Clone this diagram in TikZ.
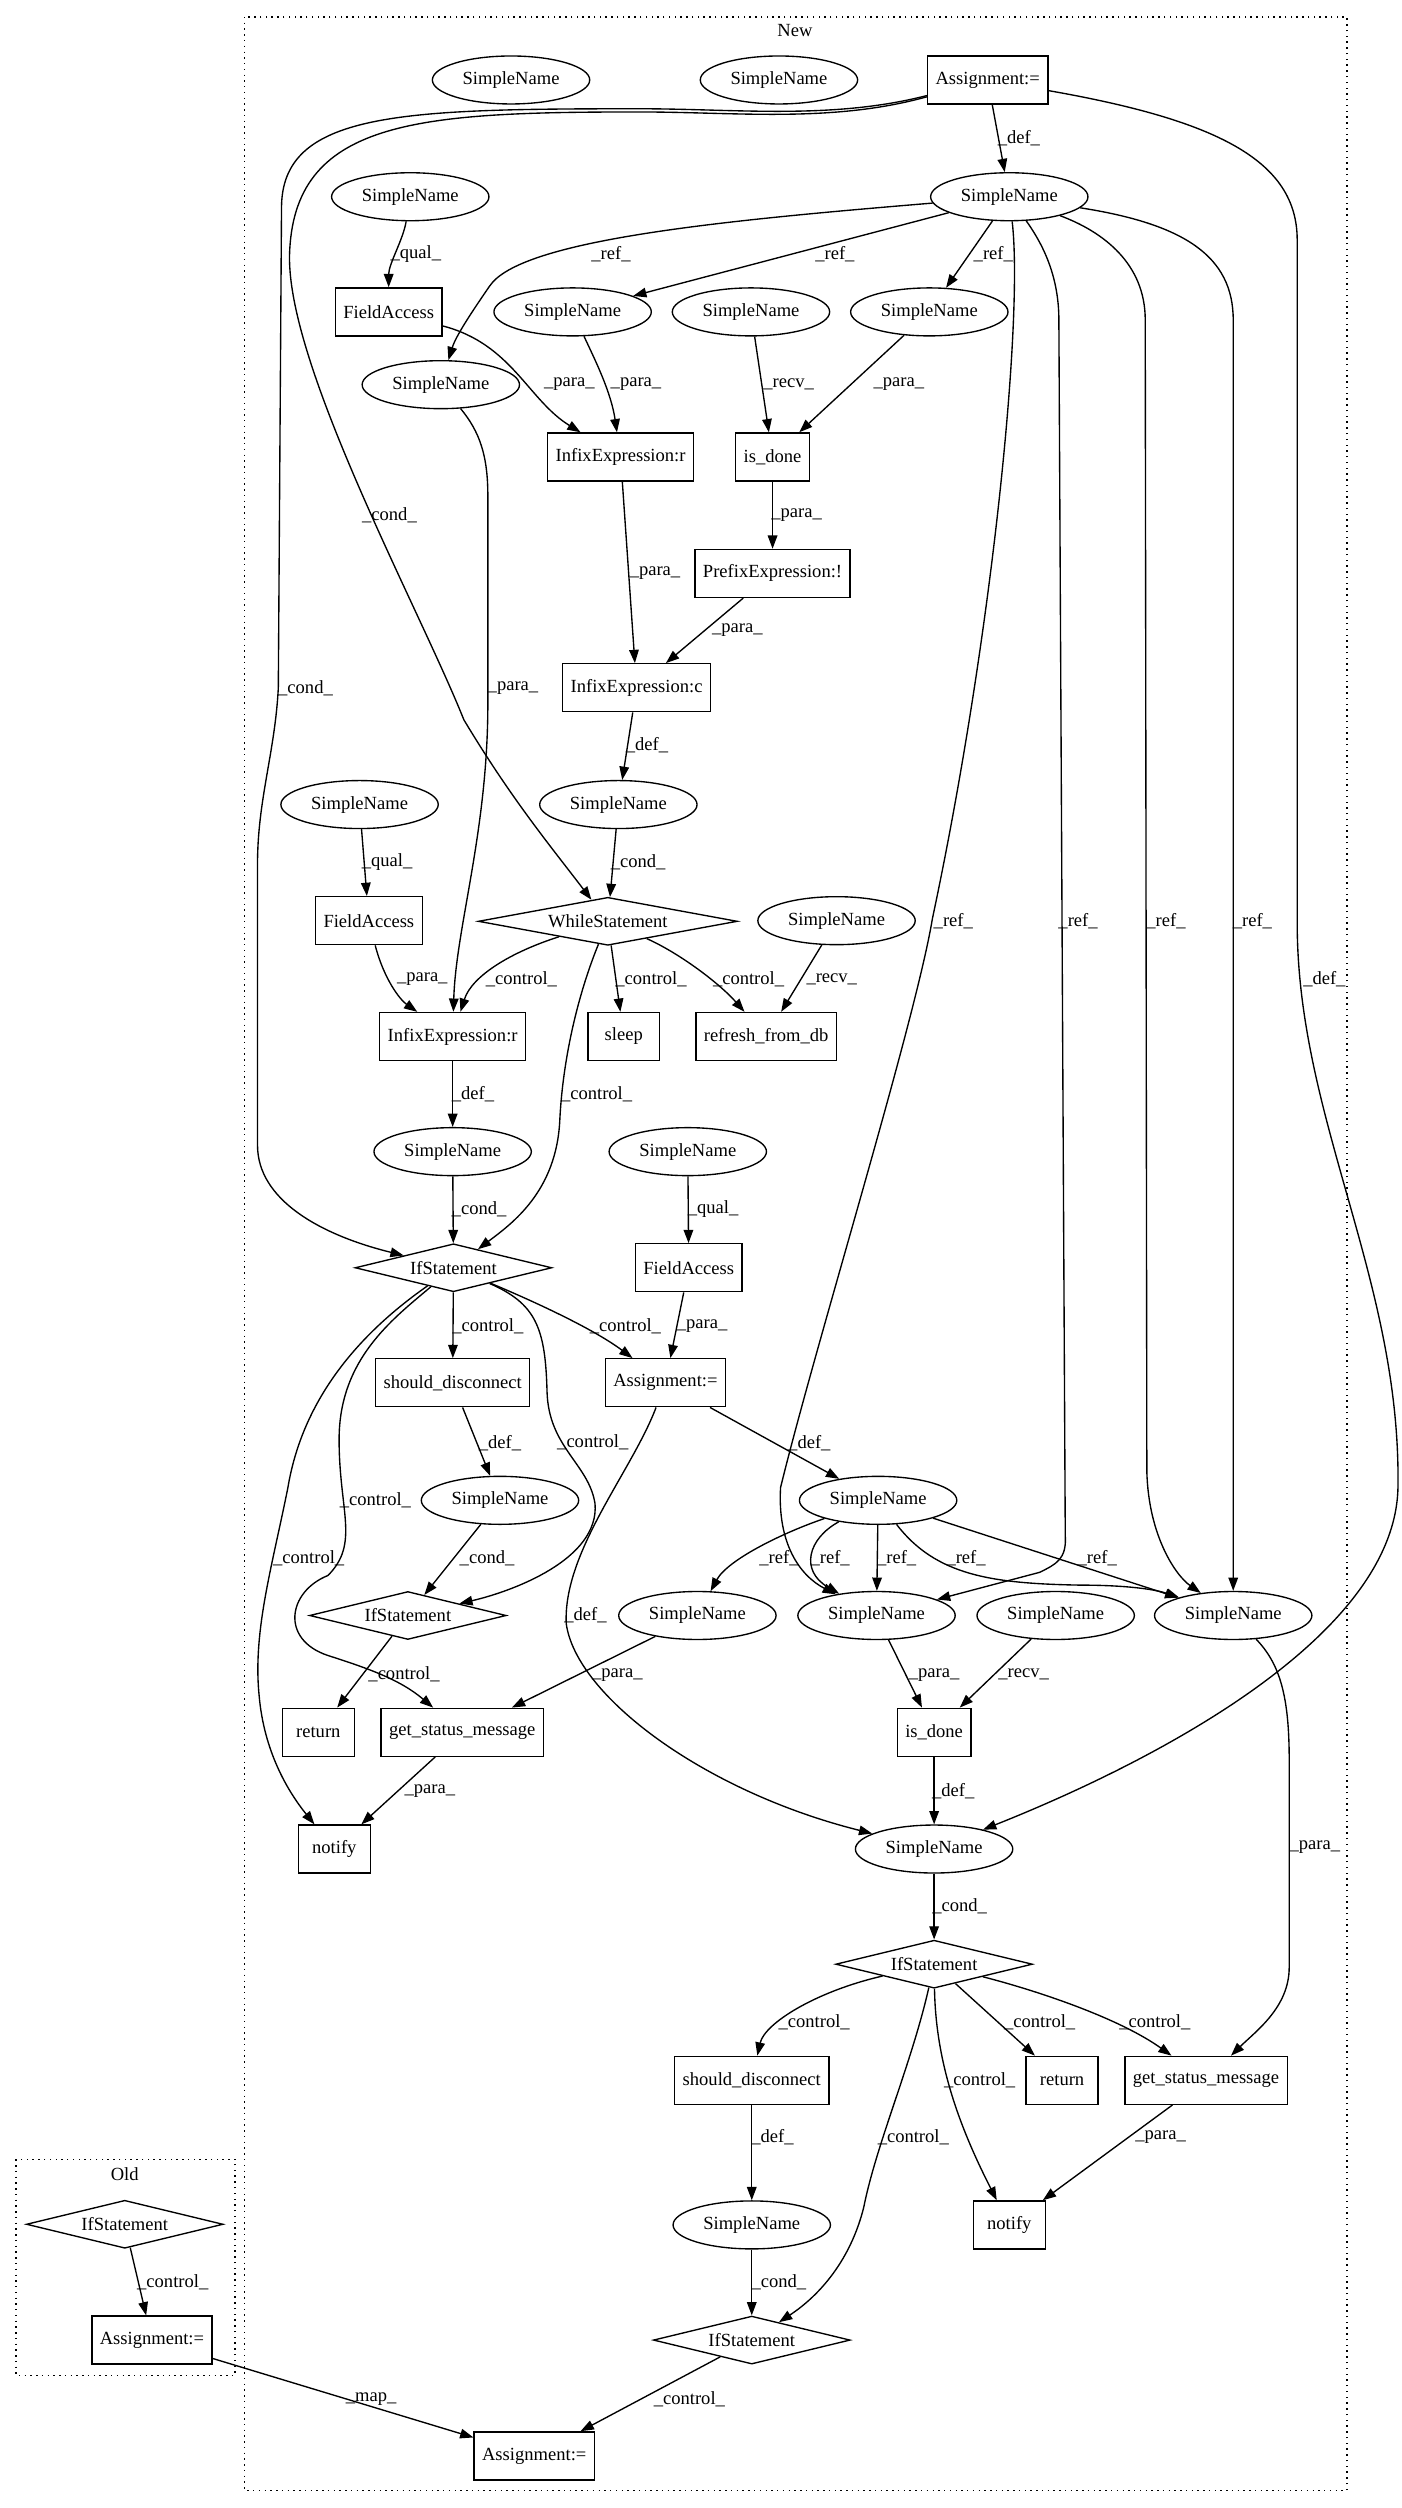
\documentclass[tikz,border=0pt]{standalone}
\usepackage{fontspec}
\setmainfont{Liberation Serif}
\usetikzlibrary{arrows.meta,shapes.geometric}

\begin{document}
\begin{tikzpicture}[x=1pt,y=-1pt,
  every node/.style={font=\fontsize{11.6}{13}\selectfont},
  sn/.style={draw,ellipse,inner xsep=4.5pt,inner ysep=2pt,minimum height=30pt,line width=0.85pt},
  bx/.style={draw,rectangle,inner xsep=5pt,minimum width=45pt,minimum height=30pt,line width=0.85pt},
  dm/.style={draw,diamond,aspect=4.2,inner sep=0pt,minimum width=123pt,minimum height=30pt,line width=0.85pt},
  ln/.style={-{Triangle[length=8.3pt,width=6pt]},line width=0.85pt},
  lb/.style={inner sep=0pt},
  grp/.style={dash pattern=on 0.9pt off 2.7pt,line width=0.9pt}]
\useasboundingbox (0,0) rectangle (876,1568);

\draw[grp] (153,10.6) rectangle (842,1557);
\node (t1) at (497,19) {New};
\draw[grp] (10,1350) rectangle (147,1485);
\node (t2) at (78,1359) {Old};

\node[sn] (s1) at (319.5,50) {SimpleName};
\node[sn] (s2) at (487,50) {SimpleName};
\node[bx] (a1) at (617.5,50) {Assignment:=};
\node[sn] (s3) at (631,123) {SimpleName};
\node[sn] (s4) at (256.5,123) {SimpleName};
\node[bx] (f1) at (243,195) {FieldAccess};
\node[sn] (s5) at (358,195) {SimpleName};
\node[sn] (s6) at (469.5,195) {SimpleName};
\node[sn] (s7) at (581,195) {SimpleName};
\node[sn] (s8) at (275.6,240.5) {SimpleName};
\node[bx] (ir1) at (388,285.7) {InfixExpression:r};
\node[bx] (d1) at (483,285.7) {is\_done};
\node[bx] (p1) at (483,358.5) {PrefixExpression:!};
\node[bx] (ic1) at (398,430) {InfixExpression:c};
\node[sn] (s9) at (386.6,503) {SimpleName};
\node[sn] (s10) at (224.8,503) {SimpleName};
\node[bx] (f2) at (230.6,575.6) {FieldAccess};
\node[dm,minimum width=162pt] (w1) at (380,576) {WhileStatement};
\node[sn] (s11) at (523,575.6) {SimpleName};
\node[bx] (ir2) at (283,648) {InfixExpression:r};
\node[bx] (sl1) at (390,648) {sleep};
\node[bx] (rf1) at (479,648) {refresh\_from\_db};
\node[sn] (s12) at (283,720) {SimpleName};
\node[sn] (s13) at (430,720) {SimpleName};
\node[dm] (if1) at (283.5,792.6) {IfStatement};
\node[bx] (f3) at (430.6,792.6) {FieldAccess};
\node[bx] (sd1) at (283,864.5) {should\_disconnect};
\node[bx] (a2) at (416,864.5) {Assignment:=};
\node[sn] (s14) at (549,938) {SimpleName};
\node[sn] (s15) at (312.6,938) {SimpleName};
\node[dm] (if2) at (255,1010) {IfStatement};
\node[sn] (s16) at (436,1010) {SimpleName};
\node[sn] (s17) at (548,1010) {SimpleName};
\node[sn] (s18) at (660,1010) {SimpleName};
\node[sn] (s19) at (771,1010) {SimpleName};
\node[bx] (r1) at (199,1083) {return};
\node[bx] (g1) at (289,1083) {get\_status\_message};
\node[bx] (d2) at (584,1083) {is\_done};
\node[bx] (n1) at (209,1156) {notify};
\node[sn] (s20) at (584,1156) {SimpleName};
\node[dm] (if3) at (584,1228) {IfStatement};
\node[bx] (sd2) at (470,1300.6) {should\_disconnect};
\node[bx] (r2) at (664,1300.6) {return};
\node[bx] (g2) at (754,1300.6) {get\_status\_message};
\node[bx] (n2) at (631,1391) {notify};
\node[sn] (s21) at (470,1391) {SimpleName};
\node[dm] (if4) at (470,1463) {IfStatement};
\node[bx] (a3) at (334,1535.4) {Assignment:=};
\node[dm] (if5) at (78,1390.6) {IfStatement};
\node[bx] (a4) at (95,1463) {Assignment:=};

\draw[ln] (a1) -- (s3) node[lb] (l1) at (637,86.5) {\_def\_};
\draw[ln] (a1) .. controls (520,75) and (460,68) .. (400,68) .. controls (250,68) and (176,70) .. (176,130) -- (174,430) .. controls (172,470) and (161,500) .. (161,540) -- (161,716) .. controls (161,750) and (200,772) .. (if1) node[lb] (l2) at (191,430) {\_cond\_};
\draw[ln] (a1) .. controls (520,77) and (460,70) .. (400,70) .. controls (260,70) and (183,75) .. (181,160) .. controls (180,230) and (262,380) .. (290,450) .. controls (320,500) and (345,530) .. (w1) node[lb] (l3) at (243.5,322) {\_cond\_};
\draw[ln] (a1) .. controls (760,75) and (811,100) .. (811,150) -- (811,577) .. controls (811,700) and (876,800) .. (874,930) .. controls (872,1030) and (700,1110) .. (s20) node[lb] (l4) at (828,612) {\_def\_};

\draw[ln] (s3) .. controls (450,138) and (325,150) .. (306,179) .. controls (295,195) and (285,210) .. (s8) node[lb] (l5) at (382,159) {\_ref\_};
\draw[ln] (s3) -- (s5) node[lb] (l6) at (522,159) {\_ref\_};
\draw[ln] (s3) -- (s7) node[lb] (l7) at (621,159) {\_ref\_};
\draw[ln] (s3) .. controls (640,200) and (620,400) .. (583,574) .. controls (572,640) and (510,840) .. (488,930) .. controls (486,965) and (500,985) .. (s17) node[lb] (l8) at (596,576) {\_ref\_};
\draw[ln] (s3) .. controls (650,150) and (662,170) .. (662,200) -- (666,960) .. controls (667,975) and (660,978) .. (650,983) -- (s17) node[lb] (l9) at (674,576) {\_ref\_};
\draw[ln] (s3) .. controls (690,145) and (716,165) .. (716,200) -- (717,920) .. controls (718,960) and (735,985) .. (s19) node[lb] (l10) at (729,576) {\_ref\_};
\draw[ln] (s3) .. controls (740,140) and (771,160) .. (771,200) -- (s19) node[lb] (l11) at (783,576) {\_ref\_};

\draw[ln] (s4) .. controls (252,150) and (243,165) .. (f1) node[lb] (l12) at (260,159) {\_qual\_};
\draw[ln] (f1) .. controls (320,215) and (330,250) .. (ir1) node[lb] (l13) at (356,240) {\_para\_};
\draw[ln] (s5) .. controls (372,225) and (382,245) .. (ir1) node[lb] (l14) at (397.6,240) {\_para\_};
\draw[ln] (s6) -- (d1) node[lb] (l15) at (493,240) {\_recv\_};
\draw[ln] (s7) -- (d1) node[lb] (l16) at (562,240) {\_para\_};
\draw[ln] (d1) -- (p1) node[lb] (l17) at (498,322) {\_para\_};
\draw[ln] (ir1) -- (ic1) node[lb] (l18) at (409.5,358) {\_para\_};
\draw[ln] (p1) -- (ic1) node[lb] (l19) at (461,394) {\_para\_};
\draw[ln] (ic1) -- (s9) node[lb] (l20) at (404.5,466) {\_def\_};
\draw[ln] (s9) -- (w1) node[lb] (l21) at (399,539) {\_cond\_};
\draw[ln] (s8) .. controls (300,270) and (305,285) .. (305,310) -- (305,440) .. controls (305,520) and (285,580) .. (ir2) node[lb] (l22) at (320.7,430) {\_para\_};
\draw[ln] (s10) -- (f2) node[lb] (l23) at (242,539) {\_qual\_};
\draw[ln] (f2) .. controls (240,612) and (250,625) .. (ir2) node[lb] (l24) at (264,612) {\_para\_};
\draw[ln] (w1) .. controls (320,595) and (295,610) .. (ir2) node[lb] (l25) at (326,612) {\_control\_};
\draw[ln] (w1) -- (sl1) node[lb] (l26) at (407,612) {\_control\_};
\draw[ln] (w1) .. controls (425,596) and (450,615) .. (rf1) node[lb] (l27) at (468,612) {\_control\_};
\draw[ln] (s11) -- (rf1) node[lb] (l28) at (520,612) {\_recv\_};
\draw[ln] (w1) .. controls (362,620) and (352,660) .. (350,700) .. controls (348,745) and (320,765) .. (if1) node[lb] (l29) at (373,684) {\_control\_};
\draw[ln] (ir2) -- (s12) node[lb] (l30) at (295.7,684) {\_def\_};
\draw[ln] (s12) -- (if1) node[lb] (l31) at (299.5,756) {\_cond\_};
\draw[ln] (s13) -- (f3) node[lb] (l32) at (445.8,756) {\_qual\_};
\draw[ln] (f3) -- (a2) node[lb] (l33) at (439,829) {\_para\_};
\draw[ln] (if1) -- (sd1) node[lb] (l34) at (305,829) {\_control\_};
\draw[ln] (if1) .. controls (330,812) and (370,830) .. (a2) node[lb] (l35) at (391,829) {\_control\_};
\draw[ln] (if1) .. controls (335,815) and (341,830) .. (342,870) .. controls (343,905) and (368,915) .. (372,940) .. controls (375,975) and (320,995) .. (if2) node[lb] (l36) at (370.6,902) {\_control\_};
\draw[ln] (if1) .. controls (245,825) and (212,850) .. (212,900) .. controls (212,945) and (225,965) .. (205,985) .. controls (180,995) and (175,1025) .. (205,1035) .. controls (230,1043) and (250,1050) .. (g1) node[lb] (l37) at (234.7,938) {\_control\_};
\draw[ln] (if1) .. controls (230,830) and (190,870) .. (180,930) .. controls (170,980) and (158,1020) .. (162,1060) .. controls (165,1095) and (180,1120) .. (n1) node[lb] (l38) at (193,974.5) {\_control\_};
\draw[ln] (sd1) -- (s15) node[lb] (l39) at (312.6,902) {\_def\_};
\draw[ln] (a2) -- (s14) node[lb] (l40) at (506,902) {\_def\_};
\draw[ln] (a2) .. controls (395,920) and (352,970) .. (354,1015) .. controls (360,1060) and (440,1120) .. (s20) node[lb] (l41) at (366,1010) {\_def\_};
\draw[ln] (s15) -- (if2) node[lb] (l42) at (304.5,974.5) {\_cond\_};

\draw[ln] (s14) .. controls (490,958) and (455,975) .. (s16) node[lb] (l43) at (487,974) {\_ref\_};
\draw[ln] (s14) .. controls (505,962) and (500,982) .. (s17) node[lb] (l44) at (519,974) {\_ref\_};
\draw[ln] (s14) -- (s17) node[lb] (l45) at (560.6,974) {\_ref\_};
\draw[ln] (s14) .. controls (585,985) and (620,990) .. (675,991) .. controls (700,991) and (720,993) .. (s19) node[lb] (l46) at (604,974) {\_ref\_};
\draw[ln] (s14) -- (s19) node[lb] (l47) at (686,974) {\_ref\_};

\draw[ln] (if2) -- (r1) node[lb] (l48) at (252.6,1047) {\_control\_};
\draw[ln] (s16) -- (g1) node[lb] (l49) at (386,1047) {\_para\_};
\draw[ln] (s17) -- (d2) node[lb] (l50) at (584,1047) {\_para\_};
\draw[ln] (s18) -- (d2) node[lb] (l51) at (640,1047) {\_recv\_};
\draw[ln] (g1) -- (n1) node[lb] (l52) at (268.7,1120) {\_para\_};
\draw[ln] (d2) -- (s20) node[lb] (l53) at (596,1120) {\_def\_};
\draw[ln] (s19) .. controls (800,1040) and (806,1060) .. (806,1100) -- (806,1230) .. controls (806,1255) and (785,1270) .. (g2) node[lb] (l54) at (822,1155) {\_para\_};
\draw[ln] (s20) -- (if3) node[lb] (l55) at (600,1192) {\_cond\_};

\draw[ln] (if3) .. controls (510,1245) and (478,1265) .. (sd2) node[lb] (l56) at (509,1264) {\_control\_};
\draw[ln] (if3) -- (r2) node[lb] (l57) at (650,1264) {\_control\_};
\draw[ln] (if3) .. controls (650,1245) and (700,1262) .. (g2) node[lb] (l58) at (722,1264) {\_control\_};
\draw[ln] (if3) .. controls (585,1290) and (600,1330) .. (n2) node[lb] (l59) at (612.5,1300.6) {\_control\_};
\draw[ln] (if3) .. controls (570,1290) and (548,1340) .. (540,1380) .. controls (530,1420) and (505,1440) .. (if4) node[lb] (l60) at (571,1336) {\_control\_};
\draw[ln] (sd2) -- (s21) node[lb] (l61) at (483,1336) {\_def\_};
\draw[ln] (g2) -- (n2) node[lb] (l62) at (725.6,1336) {\_para\_};
\draw[ln] (s21) -- (if4) node[lb] (l63) at (487,1427) {\_cond\_};
\draw[ln] (if4) -- (a3) node[lb] (l64) at (431,1500) {\_control\_};

\draw[ln] (if5) -- (a4) node[lb] (l65) at (108,1427) {\_control\_};
\draw[ln] (a4) -- (a3) node[lb] (l66) at (232,1500) {\_map\_};
\end{tikzpicture}
\end{document}
